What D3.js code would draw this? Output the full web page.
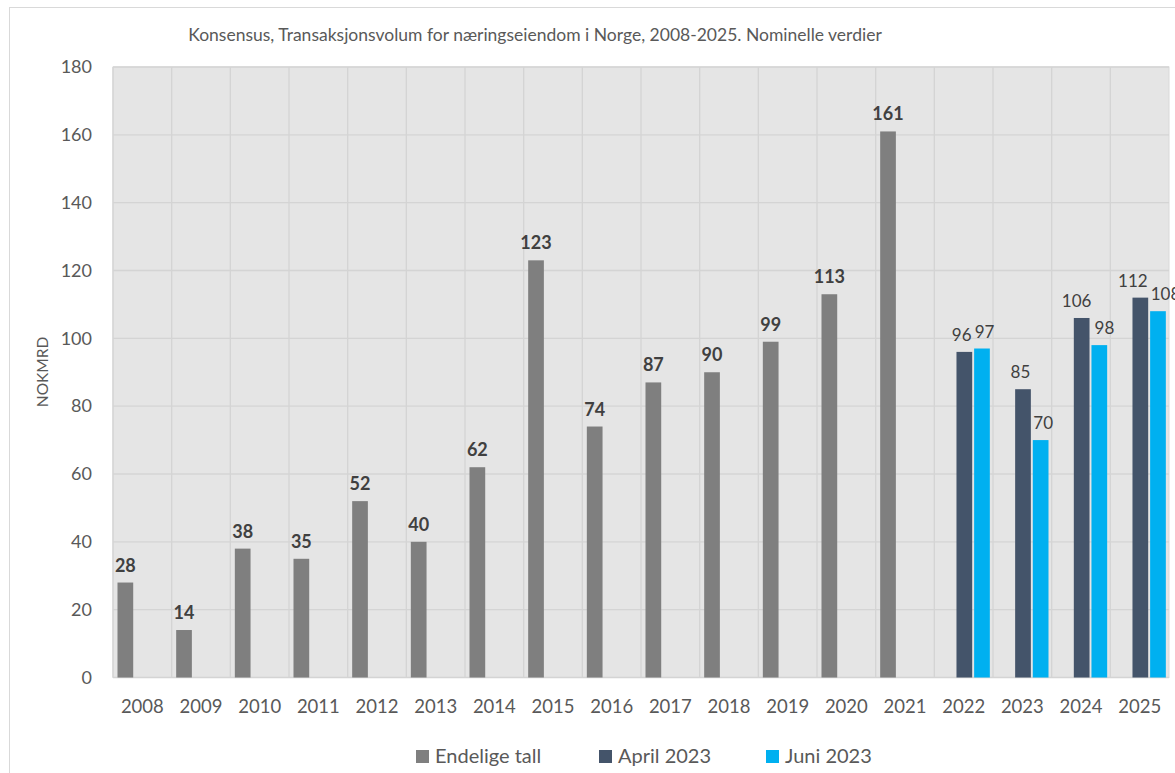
<!DOCTYPE html>
<html>
<head>
<meta charset="utf-8">
<script src="https://cdn.jsdelivr.net/npm/d3@7"></script>
<style>
  body { margin: 0; background: #fff; }
  text { font-family: Lato, "Open Sans", sans-serif; }
</style>
</head>
<body>
<div id="chart"></div>
<script>
// ---- data ----
const years = ['2008','2009','2010','2011','2012','2013','2014','2015','2016',
               '2017','2018','2019','2020','2021','2022','2023','2024','2025']
const seriesNames = ['Endelige tall', 'April 2023', 'Juni 2023']
const endelige = [28, 14, 38, 35, 52, 40, 62, 123, 74, 87, 90, 99, 113, 161, null, null, null, null]
const april2023 = [null, null, null, null, null, null, null, null, null, null, null, null, null, null, 96, 85, 106, 112]
const juni2023 = [null, null, null, null, null, null, null, null, null, null, null, null, null, null, 97, 70, 98, 108]
const yTicks = [0, 20, 40, 60, 80, 100, 120, 140, 160, 180]

const title = 'Konsensus, Transaksjonsvolum for næringseiendom i Norge, 2008-2025. Nominelle verdier'
const yTitle = 'NOKMRD'
const colors = ['#7f7f7f', '#44546a', '#00b0f0']

//==================================//
// SVG + scales
//
const W = 1175, H = 773
const plot = {left: 113, right: 1169, top: 67, bottom: 677.5}

let svg = d3.select('#chart').append('svg')
    .attr('width', W)
    .attr('height', H)

let x = d3.scaleBand().domain(years).range([plot.left, plot.right]).padding(0)
let sub = d3.scaleBand().domain(seriesNames).range([4.5, 55.5]).paddingInner(0.11)
let y = d3.scaleLinear().domain([0, 180]).range([plot.bottom, plot.top])

// chart border
svg.append('rect')
    .attr('x', 9.5).attr('y', 7.5)
    .attr('width', W + 20).attr('height', H + 20)
    .attr('fill', 'none').attr('stroke', '#d9d9d9')

// title
svg.append('text')
    .attr('x', 535).attr('y', 41)
    .attr('text-anchor', 'middle')
    .attr('font-size', 17.5)
    .attr('fill', '#595959')
    .text(title)

//====[ plot background + grid ]====//
svg.append('rect')
    .attr('x', plot.left).attr('y', plot.top)
    .attr('width', plot.right - plot.left).attr('height', plot.bottom - plot.top)
    .attr('fill', '#e5e5e5').attr('stroke', '#d9d9d9')

let grid = svg.append('g')
grid.selectAll('line.h')
    .data(yTicks)
    .enter().append('line')
    .attr('x1', plot.left).attr('x2', plot.right)
    .attr('y1', d => y(d)).attr('y2', d => y(d))
    .attr('stroke', '#d4d4d4').attr('stroke-width', 1.3)
grid.selectAll('line.v')
    .data(years)
    .enter().append('line')
    .attr('x1', d => x(d)).attr('x2', d => x(d))
    .attr('y1', plot.top).attr('y2', plot.bottom)
    .attr('stroke', '#d4d4d4').attr('stroke-width', 1.3)

//====[ axes ]====//
let yAxis = svg.append('g')
    .attr('transform', 'translate(' + 92 + ',0)')
    .call(d3.axisLeft(y).tickValues(yTicks).tickSize(0).tickPadding(0))
yAxis.select('.domain').remove()
yAxis.selectAll('text')
    .attr('font-size', 18).attr('fill', '#595959')
    .attr('font-family', 'Lato, sans-serif')

let xAxis = svg.append('g')
    .attr('transform', 'translate(0,' + plot.bottom + ')')
    .call(d3.axisBottom(x).tickSize(0).tickPadding(22))
xAxis.select('.domain').remove()
xAxis.selectAll('text')
    .attr('font-size', 18.5).attr('fill', '#595959')
    .attr('font-family', 'Lato, sans-serif')

svg.append('text')
    .attr('transform', 'translate(47.5,372) rotate(-90)')
    .attr('text-anchor', 'middle')
    .attr('font-size', 15.5).attr('fill', '#595959')
    .text(yTitle)

//====[ bars ]====//
const seriesData = [endelige, april2023, juni2023]
let labelsByYear = {}

seriesNames.forEach((name, s) => {
    let pts = years.map((yr, i) => ({year: yr, v: seriesData[s][i]})).filter(d => d.v != null)
    let g = svg.append('g')
    g.selectAll('rect')
        .data(pts)
        .enter().append('rect')
        .attr('x', d => x(d.year) + sub(name))
        .attr('width', sub.bandwidth())
        .attr('y', d => y(d.v))
        .attr('height', d => y(0) - y(d.v))
        .attr('fill', colors[s])
    g.selectAll('text')
        .data(pts)
        .enter().append('text')
        .attr('x', d => x(d.year) + sub(name) + sub.bandwidth() / 2)
        .attr('y', d => y(d.v) - 11)
        .attr('text-anchor', 'middle')
        .attr('font-size', s === 0 ? 18 : 17)
        .attr('font-weight', s === 0 ? 'bold' : 'normal')
        .attr('fill', '#404040')
        .text(d => d3.format('d')(d.v))
        .each(function (d) {
            (labelsByYear[d.year] = labelsByYear[d.year] || []).push(this)
        })
})

// push apart neighbouring labels in the same year (like Excel does)
Object.values(labelsByYear).forEach(list => {
    if (list.length < 2) return
    let a = list[0], b = list[1]
    let ba = a.getBBox(), bb = b.getBBox()
    let need = (ba.x + ba.width + 3) - bb.x
    if (need > 0) {
        a.setAttribute('x', +a.getAttribute('x') - need / 2)
        b.setAttribute('x', +b.getAttribute('x') + need / 2)
    }
})

//====[ legend ]====//
const legendX = [416, 599, 766]
let legend = svg.append('g')
seriesNames.forEach((name, s) => {
    legend.append('rect')
        .attr('x', legendX[s]).attr('y', 750)
        .attr('width', 13).attr('height', 13)
        .attr('fill', colors[s])
    legend.append('text')
        .attr('x', legendX[s] + 19).attr('y', 763)
        .attr('font-size', 20).attr('fill', '#595959')
        .text(name)
})
</script>
</body>
</html>
